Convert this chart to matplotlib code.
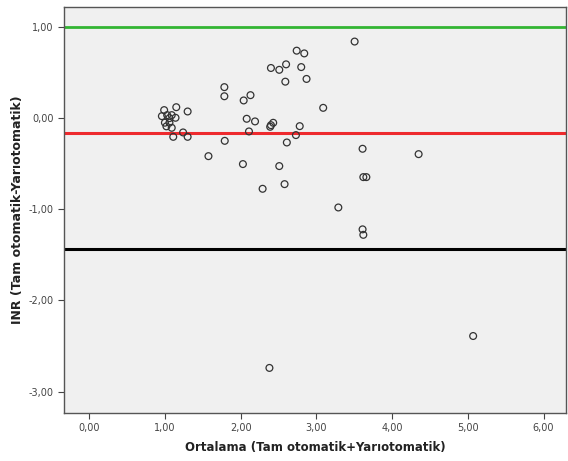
import matplotlib
matplotlib.use('Agg')
import matplotlib.pyplot as plt

# Bland-Altman data
mean_vals = [0.99, 0.96, 1.03, 1.09, 1.06, 1.14, 1.00, 1.06, 1.02, 1.09,
             1.15, 1.30, 1.11, 1.24, 1.30, 1.575, 1.785, 1.785, 1.79, 2.04,
             2.13, 2.08, 2.19, 2.11, 2.03, 2.29, 2.40, 2.43, 2.39, 2.40,
             2.51, 2.60, 2.59, 2.74, 2.84, 2.80, 2.87, 2.78, 2.73, 2.61,
             2.51, 2.58, 3.505, 3.09, 3.61, 4.35, 3.62, 3.66, 3.29, 3.61,
             3.62, 2.38, 5.07]
diff_vals = [0.088, 0.022, 0.033, 0.033, 0.0, 0.004, -0.05, -0.05, -0.09, -0.106,
             0.12, 0.073, -0.205, -0.157, -0.205, -0.417, 0.34, 0.24, -0.249, 0.194,
             0.252, -0.007, -0.036, -0.146, -0.504, -0.775, -0.077, -0.051, -0.095, 0.55,
             0.53, 0.59, 0.40, 0.74, 0.71, 0.56, 0.43, -0.088, -0.186, -0.267,
             -0.526, -0.724, 0.84, 0.113, -0.336, -0.395, -0.647, -0.647, -0.98, -1.22,
             -1.28, -2.74, -2.39]

upper_limit = 1.0
mean_diff = -0.16
lower_limit = -1.435

x_ticks = [0, 1, 2, 3, 4, 5, 6]
y_ticks = [1, 0, -1, -2, -3]


def fmt(v):
    return ('%.2f' % v).replace('.', ',')


def main():
    fig = plt.figure(figsize=(5.68, 4.61), dpi=100)
    ax = fig.add_axes([0.113, 0.105, 0.884, 0.88])
    ax.set_facecolor('#f0f0f0')

    ax.axhline(upper_limit, color='#33b533', lw=2.0, zorder=2)
    ax.axhline(mean_diff, color='#ee2a2e', lw=2.2, zorder=2)
    ax.axhline(lower_limit, color='black', lw=2.2, zorder=2)

    ax.scatter(mean_vals, diff_vals, s=24, facecolors='none',
               edgecolors='#333333', linewidths=0.9, zorder=3)

    ax.set_xlim(-0.33, 6.3)
    ax.set_ylim(-3.23, 1.22)
    ax.set_xticks(x_ticks)
    ax.set_xticklabels([fmt(v) for v in x_ticks])
    ax.set_yticks(y_ticks)
    ax.set_yticklabels([fmt(v) for v in y_ticks])
    ax.tick_params(direction='out', length=4, labelsize=7, colors='#444444',
                   labelcolor='#444444')

    for side in ['left', 'bottom', 'top', 'right']:
        ax.spines[side].set_color('#555555')
        ax.spines[side].set_linewidth(1.0)

    ax.set_xlabel('Ortalama (Tam otomatik+Yarıotomatik)', fontsize=8.5,
                  fontweight='bold', color='#222222', labelpad=6)
    ax.set_ylabel('INR (Tam otomatik-Yarıotomatik)', fontsize=9,
                  fontweight='bold', color='#222222', labelpad=3)

    fig.savefig('out.png', dpi=100)


if __name__ == '__main__':
    main()
